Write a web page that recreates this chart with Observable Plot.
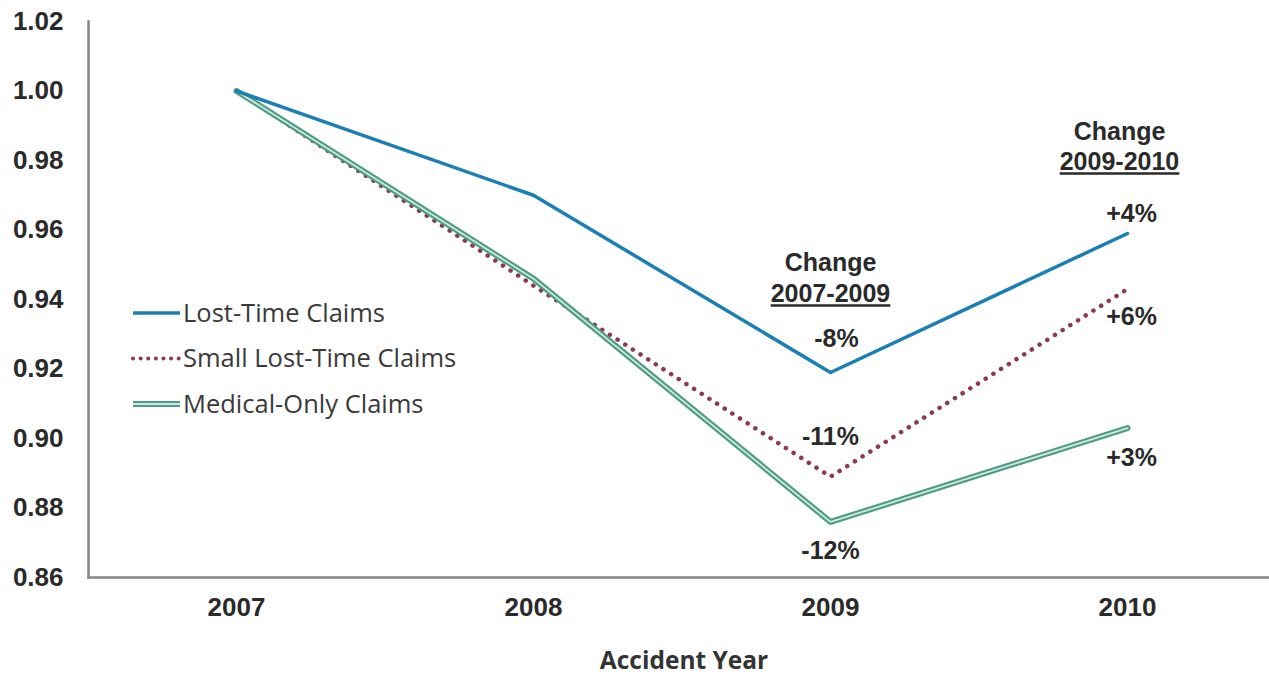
<!DOCTYPE html>
<html><head><meta charset="utf-8">
<script src="https://cdn.jsdelivr.net/npm/d3@7"></script>
<script src="https://cdn.jsdelivr.net/npm/@observablehq/plot@0.6"></script>
<style>
body{margin:0;background:#fff;}
#chart svg{display:block;}
</style>
</head><body><div id="chart"></div>
<script>
// ---- data ----
const years = ["2007", "2008", "2009", "2010"];
const seriesNames = ["Lost-Time Claims", "Small Lost-Time Claims", "Medical-Only Claims"];
const lostTime = [1.000, 0.970, 0.919, 0.959];
const smallLostTime = [1.000, 0.944, 0.889, 0.943];
const medicalOnly = [1.000, 0.946, 0.876, 0.903];
const yTicks = [0.86, 0.88, 0.90, 0.92, 0.94, 0.96, 0.98, 1.00, 1.02];
const change0709 = ["-8%", "-11%", "-12%"];
const change0910 = ["+4%", "+6%", "+3%"];
const headingTitle = "Change";
const headingPeriods = ["2007-2009", "2009-2010"];
const headingYears = ["2009", "2010"];
const xLabel = "Accident Year";

// ---- build tables ----
const seriesValues = [lostTime, smallLostTime, medicalOnly];
const rows = seriesValues.map((vals, i) => years.map((year, j) => ({series: seriesNames[i], year, value: vals[j]})));

const textColor = "#2a2a2a";
const bold = {fontWeight: "bold", fill: textColor, fontFamily: "Liberation Sans, Arial, sans-serif"};

// offsets for the percentage labels (layout only)
const off09 = [{dx: 6, dy: -33}, {dx: 0, dy: -40}, {dx: 0, dy: 29}];
const off10 = [{dx: 4, dy: -19}, {dx: 4, dy: 28}, {dx: 4, dy: 30}];
const headDy = [[232, 263], [101, 131]];
const headDx = [0, -8];

const pctMarks = [];
for (let i = 0; i < 3; i++) {
  pctMarks.push(Plot.text([{year: "2009", value: seriesValues[i][2], label: change0709[i]}],
    {x: "year", y: "value", text: "label", fontSize: 25, ...off09[i], ...bold}));
  pctMarks.push(Plot.text([{year: "2010", value: seriesValues[i][3], label: change0910[i]}],
    {x: "year", y: "value", text: "label", fontSize: 25, ...off10[i], ...bold}));
}
const headMarks = [];
headingYears.forEach((yr, i) => {
  headMarks.push(Plot.text([{year: yr, label: headingTitle}], {x: "year", text: "label", frameAnchor: "top", dy: headDy[i][0], dx: headDx[i], fontSize: 25, ...bold}));
  headMarks.push(Plot.text([{year: yr, label: headingPeriods[i]}], {x: "year", text: "label", frameAnchor: "top", dy: headDy[i][1], dx: headDx[i], fontSize: 25, ...bold}));
});

const plot = Plot.plot({
  width: 1269,
  height: 681,
  marginLeft: 88,
  marginRight: 0,
  marginTop: 21,
  marginBottom: 104,
  style: {fontFamily: "Liberation Sans, Arial, sans-serif", background: "#fff", color: textColor, overflow: "visible"},
  x: {type: "point", domain: years, range: [235, 1128], padding: 0},
  y: {domain: [0.86, 1.02]},
  marks: [
    Plot.frame({anchor: "left", stroke: "#858585", strokeWidth: 2.5}),
    Plot.frame({anchor: "bottom", stroke: "#858585", strokeWidth: 2.5}),
    Plot.axisY({ticks: yTicks, tickFormat: d3.format(".2f"), tickSize: 0, tickPadding: 25, fontSize: 26, fontWeight: "bold", label: null}),
    Plot.axisX({tickSize: 0, tickPadding: 20, fontSize: 26, fontWeight: "bold", label: null}),
    Plot.line(rows[1], {x: "year", y: "value", stroke: "#8b3a56", strokeWidth: 4.5, strokeDasharray: "0.1 9", strokeLinecap: "round"}),
    Plot.line(rows[2], {x: "year", y: "value", stroke: "#4f9c86", strokeWidth: 6}),
    Plot.line(rows[2], {x: "year", y: "value", stroke: "#cfeadf", strokeWidth: 1.8}),
    Plot.line(rows[0], {x: "year", y: "value", stroke: "#1b7fb3", strokeWidth: 3.5}),
    ...pctMarks,
    ...headMarks,
    Plot.text([xLabel], {frameAnchor: "bottom", dy: 91, dx: 5, fontSize: 24.5, fontWeight: "bold", fill: "#333", fontFamily: "Open Sans, sans-serif"})
  ]
});

// underline period headings
d3.select(plot).selectAll("text").filter(function() { return headingPeriods.includes(this.textContent); })
  .style("text-decoration", "underline").style("text-decoration-thickness", "2px");

// legend (inside the plot area)
const svg = d3.select(plot);
const lg = svg.append("g").attr("class", "legend").attr("text-anchor", "start");
const legendStyles = [
  [{stroke: "#1b7fb3", width: 3.5}],
  [{stroke: "#8b3a56", width: 4, dash: "0.1 7.5", cap: "round"}],
  [{stroke: "#4f9c86", width: 6}, {stroke: "#cfeadf", width: 1.8}]
];
seriesNames.forEach((name, i) => {
  const y = 313 + i * 45.5;
  legendStyles[i].forEach(s => {
    lg.append("line").attr("x1", 133).attr("x2", 180).attr("y1", y).attr("y2", y)
      .attr("stroke", s.stroke).attr("stroke-width", s.width)
      .attr("stroke-dasharray", s.dash || null).attr("stroke-linecap", s.cap || null);
  });
  lg.append("text").attr("x", 183).attr("y", y).attr("dy", "0.35em")
    .attr("text-anchor", "start")
    .attr("font-family", "Open Sans, sans-serif").attr("font-size", 25.5).attr("fill", "#3a3a3a")
    .text(name);
});

document.getElementById("chart").appendChild(plot);
</script>
</body></html>
